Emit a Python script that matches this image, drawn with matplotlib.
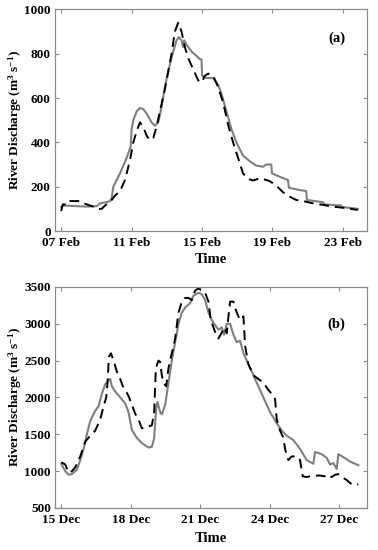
import numpy as np
import matplotlib
matplotlib.use('Agg')
import matplotlib.pyplot as plt

plt.rcParams['font.family'] = ['Liberation Serif', 'DejaVu Serif']
plt.rcParams['font.weight'] = 'bold'
plt.rcParams['mathtext.fontset'] = 'custom'
plt.rcParams['mathtext.rm'] = 'Liberation Serif:bold'
plt.rcParams['mathtext.it'] = 'Liberation Serif:bold'
plt.rcParams['mathtext.default'] = 'rm'

# ---- panel (a): February, x in pixel-ish units of the source (converted to days below)
a_obs_x = [183, 190, 230, 260, 290, 300, 320, 330, 335, 340, 360, 380, 392, 395, 400, 410, 420,
           430, 440, 455, 465, 475, 485, 495, 505, 520, 530, 537, 545, 550, 553, 560, 575, 590,
           600, 605, 607, 620, 640, 655, 665, 680, 695, 710, 730, 750, 770, 790, 800, 815, 817,
           840, 865, 868, 900, 920, 922, 970, 975, 1025, 1030, 1075]
a_obs_y = [110, 115, 112, 110, 112, 125, 130, 135, 150, 200, 260, 330, 380, 460, 500, 540, 555,
           550, 530, 490, 475, 490, 560, 650, 720, 810, 860, 875, 860, 830, 860, 840, 810, 790,
           775, 775, 700, 690, 690, 660, 620, 540, 460, 400, 340, 315, 295, 290, 300, 300, 260,
           245, 230, 195, 185, 180, 140, 130, 120, 115, 108, 100]

a_mod_x = [183, 188, 205, 210, 235, 240, 260, 280, 295, 305, 315, 330, 345, 360, 375, 390, 400,
           410, 420, 430, 440, 450, 460, 470, 480, 495, 505, 515, 525, 535, 545, 555, 565, 580,
           595, 605, 615, 625, 640, 655, 670, 685, 700, 715, 730, 745, 760, 775, 790, 810, 830,
           850, 870, 890, 910, 940, 970, 1000, 1030, 1075]
a_mod_y = [90, 120, 120, 135, 135, 130, 120, 110, 100, 100, 115, 130, 160, 180, 230, 320, 400,
           450, 490, 470, 430, 410, 420, 470, 540, 640, 720, 800, 900, 940, 900, 830, 780, 730,
           680, 670, 700, 710, 700, 650, 580, 480, 400, 330, 260, 235, 228, 235, 235, 225, 205,
           175, 155, 140, 135, 125, 118, 110, 105, 95]

a_ticks = [0, 4, 8, 12, 16]
a_labels = ['07 Feb', '11 Feb', '15 Feb', '19 Feb', '23 Feb']

# ---- panel (b): December
b_obs_x = [183, 195, 205, 215, 230, 240, 250, 260, 270, 285, 295, 305, 315, 325, 330, 335, 345,
           360, 375, 385, 395, 410, 425, 445, 455, 462, 468, 472, 480, 485, 495, 505, 515, 525,
           535, 545, 555, 570, 580, 595, 605, 615, 625, 635, 645, 655, 665, 672, 680, 690, 700,
           710, 720, 730, 750, 770, 790, 810, 830, 845, 860, 880, 900, 920, 940, 945, 965, 980,
           990, 1000, 1010, 1015, 1030, 1050, 1075]
b_obs_y = [1100, 1000, 950, 960, 1020, 1150, 1300, 1500, 1680, 1820, 1880, 2050, 2180, 2230,
           2250, 2150, 2080, 2000, 1920, 1800, 1560, 1450, 1380, 1320, 1330, 1450, 1850, 1940,
           1800, 1770, 1900, 2200, 2500, 2750, 3000, 3150, 3220, 3280, 3380, 3420, 3400, 3320,
           3150, 3050, 2980, 2920, 2950, 2850, 3000, 3000, 2850, 2750, 2770, 2600, 2400, 2200,
           2000, 1800, 1650, 1550, 1480, 1420, 1300, 1150, 1100, 1260, 1230, 1180, 1090, 1110,
           1030, 1230, 1190, 1130, 1080]

b_mod_x = [183, 195, 205, 215, 225, 240, 255, 270, 285, 300, 310, 318, 322, 326, 332, 340, 350,
           360, 368, 375, 385, 395, 405, 415, 425, 440, 455, 462, 467, 475, 480, 485, 490, 498,
           505, 515, 525, 535, 545, 555, 565, 575, 585, 595, 605, 615, 625, 632, 640, 648, 655,
           665, 672, 680, 685, 690, 700, 710, 720, 730, 735, 745, 760, 775, 790, 805, 815, 825,
           830, 840, 850, 855, 865, 875, 890, 900, 908, 920, 940, 960, 975, 985, 995, 1005, 1015,
           1025, 1040, 1055, 1075]
b_mod_y = [1120, 1090, 980, 1000, 1050, 1200, 1400, 1480, 1550, 1700, 1880, 2000, 2200, 2550,
           2600, 2500, 2350, 2250, 2150, 2100, 2020, 1900, 1780, 1700, 1580, 1600, 1620, 1800,
           2400, 2500, 2480, 2300, 2200, 2150, 2400, 2600, 2800, 3150, 3300, 3350, 3350, 3320,
           3450, 3480, 3450, 3420, 3300, 3050, 2950, 2850, 2800, 2880, 2950, 2870, 3100, 3300,
           3300, 3150, 3050, 3100, 2700, 2450, 2300, 2250, 2200, 2100, 2050, 1980, 1700, 1550,
           1450, 1300, 1150, 1200, 1200, 1150, 930, 920, 940, 940, 930, 950, 920, 950, 960, 920,
           880, 820, 820]

b_ticks = [0, 3, 6, 9, 12]
b_labels = ['15 Dec', '18 Dec', '21 Dec', '24 Dec', '27 Dec']


def to_days(xs, px_per_day):
    return (np.array(xs) - 183) / px_per_day


def style_axes(ax):
    for s in ax.spines.values():
        s.set_color('#8c8c8c')
        s.set_linewidth(0.9)
    ax.tick_params(direction='in', length=3, width=0.8, color='#8c8c8c',
                   labelsize=9.5, top=True, right=True)
    ax.tick_params(axis='y', pad=3)
    ax.tick_params(axis='x', pad=4.5)
    for lab in ax.get_xticklabels() + ax.get_yticklabels():
        lab.set_fontweight('bold')


fig = plt.figure(figsize=(3.78, 5.5), dpi=100)
ax1 = fig.add_axes([0.1455, 0.58, 0.826, 0.403])
ax2 = fig.add_axes([0.1455, 0.0764, 0.826, 0.402])

ylab = r'River Discharge (m$^{3}$ s$^{-1}$)'

# (a)
ax1.plot(to_days(a_obs_x, 52.9), a_obs_y, color='#7f7f7f', lw=1.5)
ax1.plot(to_days(a_mod_x, 52.9), a_mod_y, color='black', lw=1.4, ls=(0, (5, 3)))
ax1.set_xlim(-0.35, 17.4)
ax1.set_ylim(0, 1000)
ax1.set_xticks(a_ticks)
ax1.set_xticklabels(a_labels)
ax1.set_yticks([0, 200, 400, 600, 800, 1000])
ax1.set_xlabel('Time', fontsize=10.5, fontweight='bold', labelpad=3)
ax1.set_ylabel(ylab, fontsize=9.5, fontweight='bold', labelpad=0)
ax1.text(0.93, 0.87, '(a)', transform=ax1.transAxes, fontsize=10.5, fontweight='bold',
         ha='right', va='center')
style_axes(ax1)

# (b)
ax2.plot(to_days(b_obs_x, 69.6), b_obs_y, color='#7f7f7f', lw=1.5)
ax2.plot(to_days(b_mod_x, 69.6), b_mod_y, color='black', lw=1.4, ls=(0, (5, 3)))
ax2.set_xlim(-0.27, 13.2)
ax2.set_ylim(500, 3500)
ax2.set_xticks(b_ticks)
ax2.set_xticklabels(b_labels)
ax2.set_yticks([500, 1000, 1500, 2000, 2500, 3000, 3500])
ax2.set_xlabel('Time', fontsize=10.5, fontweight='bold', labelpad=4)
ax2.set_ylabel(ylab, fontsize=9.5, fontweight='bold', labelpad=0)
ax2.text(0.93, 0.83, '(b)', transform=ax2.transAxes, fontsize=10.5, fontweight='bold',
         ha='right', va='center')
style_axes(ax2)

fig.savefig('out.png', dpi=100)
